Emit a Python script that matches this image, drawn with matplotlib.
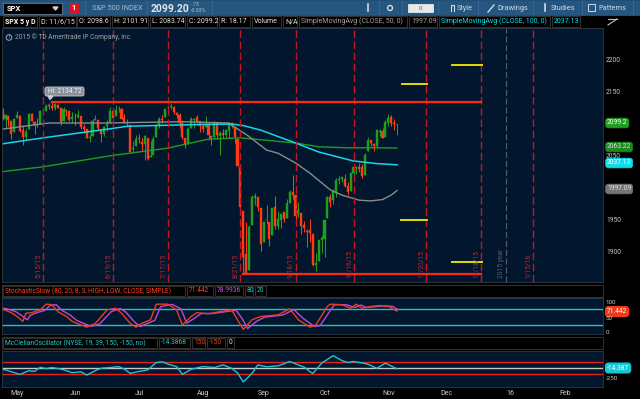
import matplotlib
matplotlib.use('Agg')
import matplotlib.pyplot as plt
from matplotlib.patches import Rectangle, FancyBboxPatch, Polygon, Circle

W, H = 640, 399
plt.rcParams['font.family'] = ['Roboto', 'DejaVu Sans']

# SPX daily bars, Apr 24 .. Nov 6 2015 (one entry per trading day)
opens = [2112.8, 2119.3, 2108.4, 2112.5, 2105.5,
         2087.4, 2110.2, 2112.6, 2091.3, 2080.0, 2092.1, 2115.6, 2102.9, 2099.6, 2100.4, 2122.1, 2121.3, 2129.5, 2127.8, 2125.6, 2130.4, 2125.3, 2105.1, 2122.3, 2120.7,
         2108.6, 2110.4, 2110.6, 2112.4, 2095.1, 2092.3, 2079.1, 2081.1, 2106.2, 2107.4, 2091.3, 2084.3, 2097.4, 2101.6, 2121.1, 2112.5, 2123.2, 2123.7, 2109.1, 2102.6, 2098.6, 2061.2,
         2067.0, 2078.0, 2073.0, 2069.5, 2078.2, 2049.7, 2052.7, 2080.0, 2099.7, 2109.0, 2110.6, 2126.8, 2126.9, 2127.6, 2118.2, 2114.2, 2102.2, 2078.2, 2070.8, 2094.7, 2106.8, 2111.6,
         2104.5, 2097.7, 2095.3, 2100.0, 2082.6, 2081.0, 2102.7, 2081.1, 2086.2, 2083.2, 2089.7, 2102.0, 2095.7, 2076.6, 2034.1, 1965.2, 1898.1, 1872.8, 1942.8, 1986.1, 1986.7,
         1970.1, 1916.5, 1950.8, 1947.8, 1927.3, 1971.5, 1941.6, 1951.5, 1963.1, 1955.1, 1978.0, 1995.3, 1989.7, 1960.8, 1961.4, 1943.2, 1934.8, 1935.9, 1929.2, 1881.9, 1887.1,
         1919.7, 1921.8, 1954.3, 1986.6, 1982.3, 1994.0, 2013.7, 2015.7, 2015.0, 2003.7, 1996.5, 2024.4, 2031.7, 2033.1, 2033.5, 2021.9, 2058.2, 2075.1, 2068.8, 2066.5, 2088.4, 2090.0,
         2080.8, 2102.6, 2110.6, 2101.7, 2098.6]
highs = [2120.9, 2125.9, 2116.0, 2113.7, 2105.5,
         2108.4, 2120.9, 2115.2, 2098.4, 2092.9, 2117.7, 2117.7, 2105.1, 2110.2, 2121.5, 2123.9, 2131.8, 2133.0, 2134.7, 2133.6, 2132.2, 2125.3, 2126.2, 2122.3, 2120.7,
         2119.2, 2117.6, 2121.9, 2112.9, 2101.0, 2093.0, 2085.7, 2108.5, 2115.0, 2107.4, 2091.3, 2097.4, 2106.8, 2126.6, 2121.6, 2129.9, 2128.0, 2125.1, 2116.0, 2108.9, 2098.6, 2074.3,
         2082.8, 2085.1, 2078.6, 2083.7, 2078.2, 2074.3, 2081.3, 2100.7, 2112.0, 2114.1, 2124.4, 2128.9, 2132.8, 2128.4, 2118.5, 2116.9, 2106.0, 2078.2, 2095.6, 2110.6, 2110.5, 2114.2,
         2105.7, 2102.5, 2112.7, 2103.3, 2082.6, 2105.4, 2102.7, 2089.1, 2092.9, 2092.5, 2102.9, 2103.5, 2096.2, 2076.6, 2034.1, 1965.2, 1948.0, 1943.1, 1989.6, 1993.5, 1986.7,
         1970.1, 1948.9, 1975.0, 1947.8, 1970.4, 1988.6, 1965.3, 1961.1, 1963.1, 1983.2, 1997.3, 2020.9, 1989.7, 1979.6, 1961.4, 1949.5, 1937.2, 1952.9, 1929.2, 1899.5, 1920.5,
         1927.2, 1951.4, 1989.2, 1991.6, 1999.3, 2016.5, 2020.1, 2018.7, 2022.3, 2009.6, 2024.2, 2033.5, 2034.5, 2039.1, 2038.0, 2055.2, 2079.7, 2075.1, 2070.4, 2090.4, 2092.5, 2094.3,
         2106.2, 2116.5, 2114.6, 2108.8, 2101.9]
lows = [2112.8, 2107.0, 2094.9, 2097.4, 2077.6,
        2087.4, 2110.2, 2088.5, 2067.9, 2075.0, 2092.1, 2104.6, 2085.6, 2096.0, 2100.4, 2116.8, 2120.0, 2124.5, 2122.6, 2122.5, 2126.1, 2099.2, 2105.1, 2112.9, 2104.9,
        2102.5, 2099.1, 2109.6, 2093.2, 2087.0, 2079.1, 2072.1, 2081.1, 2106.2, 2091.3, 2072.5, 2082.1, 2088.9, 2101.6, 2109.5, 2112.5, 2119.9, 2108.6, 2101.8, 2095.4, 2056.6, 2056.3,
        2067.0, 2071.0, 2058.4, 2044.0, 2044.5, 2049.7, 2052.7, 2080.0, 2095.0, 2102.5, 2110.6, 2119.4, 2123.7, 2115.4, 2110.0, 2094.9, 2077.1, 2063.5, 2069.1, 2094.1, 2094.1, 2102.1,
        2087.3, 2088.6, 2095.3, 2075.5, 2067.9, 2081.0, 2076.5, 2052.1, 2078.3, 2080.6, 2079.3, 2094.1, 2070.5, 2035.7, 1970.9, 1867.0, 1867.1, 1872.8, 1942.8, 1975.2, 1966.0,
        1903.1, 1916.5, 1944.7, 1911.2, 1927.3, 1937.9, 1937.2, 1939.2, 1948.3, 1954.3, 1977.9, 1983.9, 1953.5, 1955.8, 1929.2, 1932.6, 1908.9, 1916.8, 1879.2, 1871.9, 1887.1,
        1900.7, 1893.7, 1954.3, 1972.0, 1976.4, 1987.5, 2007.6, 2010.3, 2001.8, 1990.7, 1996.5, 2020.5, 2022.3, 2026.6, 2017.2, 2021.9, 2058.2, 2066.5, 2058.8, 2063.1, 2082.6, 2079.3,
        2080.8, 2097.5, 2097.0, 2090.4, 2083.7]
closes = [2117.7, 2108.9, 2114.8, 2106.9, 2085.5,
          2108.3, 2114.5, 2089.5, 2080.2, 2088.0, 2116.1, 2105.3, 2099.1, 2098.5, 2121.1, 2122.7, 2129.2, 2127.8, 2125.9, 2130.8, 2126.1, 2104.2, 2123.5, 2120.8, 2107.4,
          2111.7, 2109.6, 2114.1, 2095.8, 2092.8, 2079.3, 2080.2, 2105.2, 2108.9, 2094.1, 2084.4, 2096.3, 2100.4, 2121.2, 2110.0, 2122.9, 2124.2, 2108.6, 2102.3, 2101.5, 2057.6, 2063.1,
          2077.4, 2076.8, 2068.8, 2081.3, 2046.7, 2051.3, 2076.6, 2099.6, 2109.0, 2107.4, 2124.3, 2126.6, 2128.3, 2119.2, 2114.2, 2102.2, 2079.7, 2067.6, 2093.3, 2108.6, 2108.6, 2103.8,
          2098.0, 2093.3, 2099.8, 2083.6, 2077.6, 2104.2, 2084.1, 2086.1, 2083.4, 2091.5, 2102.4, 2096.9, 2079.6, 2035.7, 1970.9, 1893.2, 1867.6, 1940.5, 1987.7, 1988.9, 1972.2,
          1913.9, 1948.9, 1951.1, 1921.2, 1969.4, 1942.0, 1952.3, 1961.1, 1953.0, 1978.1, 1995.3, 1990.2, 1958.0, 1967.0, 1942.7, 1938.8, 1932.2, 1931.3, 1881.8, 1884.1, 1920.0,
          1923.8, 1951.4, 1987.1, 1979.9, 1995.8, 2013.4, 2014.9, 2017.5, 2003.7, 1994.2, 2023.9, 2033.1, 2033.7, 2030.8, 2018.9, 2052.5, 2075.2, 2071.2, 2065.9, 2090.4, 2089.4, 2079.4,
          2104.1, 2109.8, 2102.3, 2099.9, 2099.2]

# moving averages (bar index, value)
sma50_x = [0, 17, 35, 63, 79, 86, 92, 96, 102, 107, 114, 118, 124, 128, 132, 135, 137]
sma50_v = [2092, 2102, 2102, 2104, 2102, 2081, 2060, 2055, 2040, 2024, 1998, 1990, 1982, 1981, 1983, 1990, 1997]
sma100_x = [0, 15, 38, 44, 62, 80, 84, 90, 102, 110, 122, 130, 137]
sma100_v = [2069, 2079, 2093, 2097, 2099, 2100.5, 2098, 2091, 2071, 2057, 2043, 2039, 2037]
sma200_x = [0, 15, 38, 58, 72, 83, 90, 102, 110, 120, 130, 137]
sma200_v = [2026, 2034, 2051, 2063, 2077, 2079, 2076, 2071, 2065, 2063.5, 2063.5, 2063.2]

# stochastic slow %K / %D
k_x = [0, 1, 4, 6, 8, 9, 11, 14, 16, 18, 20, 23, 25, 30, 33, 37, 40, 42, 45, 47, 49, 52, 54, 58, 61, 63, 66, 68, 72, 76,
       80, 82, 84, 87, 90, 96, 100, 103, 107, 109, 113, 114, 118, 121, 123, 125, 128, 131, 134, 137]
k_v = [82, 79, 66, 52, 34, 64, 66, 76, 97, 95, 70, 52, 34, 13, 27, 76, 82, 64, 27, 13, 27, 40, 97, 97, 76, 21, 52, 66, 62, 70,
       76, 40, 5, 40, 52, 58, 80, 40, 13, 21, 89, 97, 95, 82, 97, 82, 89, 92, 89, 71.4]
d_x = [0, 2.5, 5.5, 7.5, 9.5, 10.5, 12.5, 15.5, 17.5, 19.5, 21.5, 24.5, 26.5, 31.5, 34.5, 38.5, 41.5, 43.5, 46.5, 48.5,
       50.5, 53.5, 55.5, 59.5, 62.5, 64.5, 67.5, 69.5, 73.5, 77.5, 81.5, 83.5, 85.5, 88.5, 91.5, 97.5, 101.5, 104.5, 108.5, 110.5,
       114.5, 115.5, 119.5, 122.5, 124.5, 126.5, 129.5, 132.5, 135.5, 137]
d_v = [84, 80, 70, 56, 40, 56, 65, 74, 93, 95, 74, 56, 38, 16, 25, 70, 81, 68, 32, 15, 25, 38, 88, 96, 80, 28, 48, 63, 63, 69,
       75, 46, 8, 34, 50, 57, 77, 46, 16, 19, 82, 95, 95, 85, 94, 85, 88, 91, 89, 79]

# McClellan oscillator
mc_x = [0, 2, 4, 7, 10, 12, 14, 16, 18, 21, 23, 25, 28, 30, 33, 35, 38, 41, 43, 45, 48, 51, 54, 56, 58, 61, 63, 66, 70, 74,
        77, 80, 82, 84, 87, 89, 92, 96, 100, 103, 105, 107, 108, 111, 115, 118, 120, 122, 125, 127, 130, 133, 135, 137]
mc_v = [-26, -40, -88, -158, -62, -80, 26, -10, 20, -18, -60, -114, -90, -176, -60, 0, 20, 44, -20, -132, -80, -44, 150, 167, 110, 44, -158,
        -26, 44, 20, 88, 0, -120, -352, -132, 88, 40, 62, 176, 88, 30, -88, -132, 132, 326, 200, 150, 176, 140, 106, 0, 132, 60, -14.4]

exp_dates = [(15, '5/15/15'), (39, '6/19/15'), (58, '7/17/15'), (83, '8/21/15'), (102, '9/18/15'),
             (122, '10/16/15'), (147, '11/20/15'), (166, '12/18/15'), (184, '1/15/16')]
year_line = 174.5
month_idx = [5, 25, 47, 69, 90, 111, 133, 153, 175, 194]
month_lbl = ['May', 'Jun', 'Jul', 'Aug', 'Sep', 'Oct', 'Nov', 'Dec', '16', 'Feb']
hi_price, lo_price = 2134.72, 1867.01

PANEL = '#02172d'
UP, DN = '#1e9e1e', '#ff3b14'


def i2px(i):
    return 2.9 * i - 0.3


def px2i(p):
    return (p + 0.3) / 2.9


fig = plt.figure(figsize=(W / 100, H / 100), dpi=100, facecolor='black')


def axes_px(x0, y0, x1, y1):
    a = fig.add_axes([x0 / W, 1 - y1 / H, (x1 - x0) / W, (y1 - y0) / H])
    a.set_facecolor(PANEL)
    a.set_xticks([])
    a.set_yticks([])
    for s in a.spines.values():
        s.set_color('#2c3a48')
        s.set_linewidth(0.6)
    a.set_xlim(px2i(x0), px2i(x1))
    return a


# ---- price panel
ax = axes_px(2, 28, 603, 282)
ax.set_ylim(1854.9, 2249.7)
idx = list(range(len(closes)))
cols = [UP if c >= o else DN for o, c in zip(opens, closes)]
ax.vlines(idx, lows, highs, colors=cols, linewidth=0.75)
ax.bar(idx, [max(abs(c - o), 0.6) for o, c in zip(opens, closes)],
       bottom=[min(o, c) for o, c in zip(opens, closes)],
       width=0.72, color=cols, edgecolor=cols, linewidth=0.3)
ax.plot(sma200_x, sma200_v, color='#229a22', lw=1)
ax.plot(sma50_x, sma50_v, color='#8a8a8a', lw=1)
ax.plot(sma100_x, sma100_v, color='#18d6e6', lw=1.1)
for i, _ in exp_dates:
    ax.axvline(i, color='#c8141e', lw=1, linestyle=(0, (5.5, 2.5)))
ax.axvline(year_line, color='#5a5f66', lw=0.8, linestyle=(0, (5.5, 2.5)))
ax.plot([18, 166], [hi_price, hi_price], color='#ff2a12', lw=1.6)
ax.plot([84, 166], [lo_price, lo_price], color='#ff2a12', lw=1.6)
for a, b, y in [(138.6, 147.3, 2162.2), (156, 166.3, 2192.2), (138.4, 147.3, 1951.3), (156, 166.3, 1886.5)]:
    ax.plot([a, b], [y, y], color='#e6dc00', lw=1.4)

# ---- stochastic
st = axes_px(2, 298, 603, 334)
st.set_ylim(-11.8, 119.5)
st.axhline(80, color='#1fc4c8', lw=1)
st.axhline(20, color='#1fc4c8', lw=1)
st.plot(d_x, d_v, color='#c246d4', lw=1)
st.plot(k_x, k_v, color='#f03a1c', lw=1)

# ---- McClellan
mc = axes_px(2, 351, 603, 387)
mc.set_ylim(-483, 447)
mc.axhline(150, color='#e8201a', lw=1)
mc.axhline(-150, color='#e8201a', lw=1)
mc.axhline(0, color='#c8c8c8', lw=1)
mc.plot(mc_x, mc_v, color='#22c4cc', lw=1)

# ---- overlay in pixel units for header, labels
ov = fig.add_axes([0, 0, 1, 1], zorder=5)
ov.set_xlim(0, W)
ov.set_ylim(H, 0)
ov.axis('off')


def box(x0, y0, x1, y1, fc='black', ec='#3a3a3a', lw=0.6):
    ov.add_patch(Rectangle((x0, y0), x1 - x0, y1 - y0, facecolor=fc, edgecolor=ec, linewidth=lw))


def txt(x, y, s, color='#d8d8d8', size=5, **kw):
    kw.setdefault('ha', 'left')
    ov.text(x, y, s, color=color, fontsize=size, va='center', **kw)


# toolbar
box(0, 0, 640, 15, fc='#24567f', ec='#24567f')
box(3, 3, 62, 14, fc='black', ec='#6a7a8a')
txt(7, 8.5, 'SPX', '#ffffff', 5.5, fontweight='bold')
ov.add_patch(Polygon([(53, 7), (58, 7), (55.5, 10)], closed=True, color='#d0d0d0'))
box(70, 3, 78, 13, fc='#e0141e', ec='#e0141e')
txt(74, 8, '1', '#ffffff', 5.5, ha='center', fontweight='bold')
for x in [85, 147, 188, 212, 379, 402, 438, 478, 533, 582, 633]:
    ov.plot([x, x], [1, 14], color='#3c6a94', lw=0.6)
txt(92, 8.5, 'S&P 500 INDEX', '#a8b8cc', 5.3)
txt(151, 8.5, '2099.20', '#e2e8ee', 7.5, fontweight='bold')
txt(191, 5, '-.73', '#b8c4d0', 3.8)
txt(191, 11, '-0.03%', '#b8c4d0', 3.8)
box(408, 4, 433, 12, fc='#e8e8e8', ec='#e8e8e8')
txt(420.5, 8, '0', '#606060', 4.5, ha='center')
txt(457, 8.5, 'Style', '#d0dae4', 5.3)
txt(497, 8.5, 'Drawings', '#d0dae4', 5.3)
txt(551, 8.5, 'Studies', '#d0dae4', 5.3)
txt(598, 8.5, 'Patterns', '#d0dae4', 5.3)
ov.plot([368, 368], [4, 11], color='#d0dae4', lw=1.2)
ov.add_patch(Circle((390, 8), 2.5, facecolor='none', edgecolor='#d0dae4', lw=1))
ov.plot([451, 451, 454, 454], [11, 5, 5, 11], color='#d0dae4', lw=0.8)
ov.plot([488, 494], [12, 5], color='#d0dae4', lw=1)
ov.plot([545, 545], [4, 11], color='#d0dae4', lw=1.2)
box(588, 4, 595, 11, fc='none', ec='#d0dae4', lw=0.7)

# info row
info = [(3, 37, 'SPX 5 y D', '#ffffff', 'bold'), (39, 76, 'D: 11/6/15', '#e0e0e0', 'normal'),
        (77, 110, 'O: 2098.6', '#e0e0e0', 'normal'), (112, 148, 'H: 2101.91', '#e0e0e0', 'normal'),
        (150, 185, 'L: 2083.74', '#e0e0e0', 'normal'), (187, 217, 'C: 2099.2', '#e0e0e0', 'normal'),
        (219, 250, 'R: 18.17', '#e0e0e0', 'normal'), (252, 281, 'Volume', '#e0e0e0', 'normal'),
        (283, 297, 'N/A', '#e0e0e0', 'normal'),
        (299, 407, 'SimpleMovingAvg (CLOSE, 50, 0)', '#a0a0a0', 'normal'), (409, 437, '1997.09', '#a0a0a0', 'normal'),
        (439, 550, 'SimpleMovingAvg (CLOSE, 100, 0)', '#00e0f4', 'normal'), (552, 580, '2037.13', '#00e0f4', 'normal')]
for x0, x1, s, c, w in info:
    box(x0, 16, x1, 27)
    txt(x0 + 2, 21.5, s, c, 5, fontweight=w)
ov.plot([608, 617], [25, 19], color='#c0c0c0', lw=0.8)
ov.plot([608, 617], [19, 19], color='#c0c0c0', lw=0.8)

# copyright
ov.add_patch(Circle((9, 37.5), 2.8, facecolor='none', edgecolor='#a8a8a8', lw=0.7))
txt(9, 37.5, '!', '#a8a8a8', 4, ha='center')
txt(15, 37.5, '2015 \u00a9 TD Ameritrade IP Company, Inc.', '#a0a0a0', 4.8)

# Hi bubble
ov.add_patch(FancyBboxPatch((45, 87), 39, 9, boxstyle='round,pad=0,rounding_size=2',
                            facecolor='#8a9098', edgecolor='#c8ccd0', lw=0.6))
ov.add_patch(Polygon([(48, 96), (53, 96), (50, 99.5)], closed=True, color='#c8ccd0'))
txt(64.5, 91.5, 'Hi: 2134.72', '#f4f4f4', 4.8, ha='center')

# expiration labels along the bottom of the price panel
for i, s in exp_dates:
    ov.text(i2px(i) - 4.5, 277.5, s, color='#c0282a', fontsize=4.8, rotation=90, ha='center', va='bottom')
ov.text(i2px(year_line) - 4.5, 277.5, '2015 year', color='#5a5f66', fontsize=4.8, rotation=90, ha='center', va='bottom')

# price axis labels
for p, y in [(2200, 60), (2150, 92), (2050, 156), (1950, 221), (1900, 253)]:
    txt(606, y, str(p), '#c8c8c8', 4.8)
for s, y, fc, tc in [('2099.2', 123, '#1f9e1f', '#ffffff'), ('2063.22', 147, '#1c8a1c', '#e0e0e0'),
                     ('2037.13', 163, '#10dcec', '#ffffff'), ('1997.09', 189, '#767676', '#e0e0e0')]:
    txt(607, y, s, tc, 4.8, bbox=dict(boxstyle='round,pad=0.2,rounding_size=0.4', fc=fc, ec=fc, lw=0.5))

# stochastic header
box(2, 285, 603, 297)
for x0, x1, s, c in [(3, 185, 'StochasticSlow (80, 20, 8, 3, HIGH, LOW, CLOSE, SIMPLE)', '#ff4422'),
                     (187, 213, '71.442', '#ff4422'), (215, 243, '78.9936', '#cc55dd'),
                     (245, 253, '80', '#20c8cc'), (255, 266, '20', '#20c8cc')]:
    box(x0, 286, x1, 296)
    txt(x0 + 2, 291, s, c, 4.8)
txt(606, 303, '100', '#c8c8c8', 4.5)
txt(607, 311.5, '71.442', '#ffffff', 4.8, bbox=dict(boxstyle='round,pad=0.2,rounding_size=0.4', fc='#f03a1c', ec='#f03a1c'))
txt(606, 318, '50', '#c8c8c8', 4.5)
txt(606, 332, '0', '#c8c8c8', 4.5)

# McClellan header
box(2, 337, 603, 349)
for x0, x1, s, c in [(3, 157, 'McClellanOscillator (NYSE, 19, 39, 150, -150, no)', '#22ccd0'),
                     (159, 190, '-14.3868', '#22ccd0'), (192, 205, '150', '#ff3a1a'),
                     (207, 225, '-150', '#ff3a1a'), (227, 234, '0', '#e0e0e0')]:
    box(x0, 338, x1, 348)
    txt(x0 + 2, 343, s, c, 4.8)
txt(607, 368, '-14.387', '#ffffff', 4.8, bbox=dict(boxstyle='round,pad=0.2,rounding_size=0.4', fc='#16c8d6', ec='#16c8d6'))
txt(606, 378.5, '-250', '#c8c8c8', 4.5)

# month axis
for i, s in zip(month_idx, month_lbl):
    txt(i2px(i) + 3, 393.5, s, '#c8c8c8', 5, ha='center')

fig.savefig('out.png', dpi=100, facecolor='black')
